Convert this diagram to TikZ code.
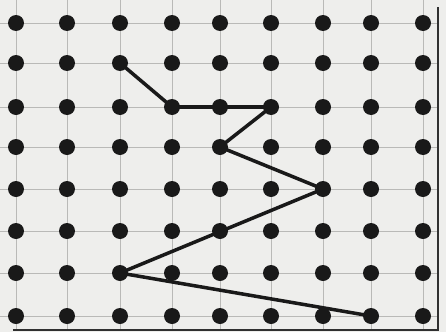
\documentclass[tikz,border=0pt]{standalone}
\usepackage{tikz}
\definecolor{paperGray}{RGB}{238, 238, 236}
\definecolor{gridGray}{RGB}{185, 185, 183}
\definecolor{inkBlack}{RGB}{25, 25, 25}

\begin{document}
\begin{tikzpicture}[
  x=0.03cm, y=-0.03cm,
  dot/.style={
    circle, inner sep=0pt, minimum size=16*0.03cm,
    fill=inkBlack, draw=none
  },
  gridline/.style={draw=gridGray, line width=0.6pt},
  zigzag/.style={draw=inkBlack, line width=3pt, line join=round, line cap=round},
  frame/.style={draw=inkBlack!90, line width=2.4pt}
]

% paper
\fill[paperGray] (0,0) rectangle (446,332);
\useasboundingbox (0,0) rectangle (446,332);

% grid lines
\foreach \y in {23, 63, 107, 147, 189, 231, 273, 316}
  \draw[gridline] (0,\y) -- (437,\y);
\foreach \x in {16, 67, 120, 172, 220, 271, 323, 371, 423}
  \draw[gridline] (\x,0) -- (\x,329);

% frame on the right and bottom
\coordinate (topRight) at (438,7);
\coordinate (cornerBR) at (438,330);
\coordinate (bottomLeft) at (13,330);
\draw[frame] (topRight) -- (cornerBR) -- (bottomLeft);

% dots
\foreach \x [count=\c from 0] in {16, 67, 120, 172, 220, 271, 323, 371, 423}
  \foreach \y [count=\r from 0] in {23, 63, 107, 147, 189, 231, 273, 316}
    \node[dot] (d-\c-\r) at (\x,\y) {};

% zigzag path
\draw[zigzag] (d-2-1.center) -- (d-3-2.center) -- (d-5-2.center)
  -- (d-4-3.center) -- (d-6-4.center) -- (d-2-6.center) -- (d-7-7.center);

\end{tikzpicture}
\end{document}
